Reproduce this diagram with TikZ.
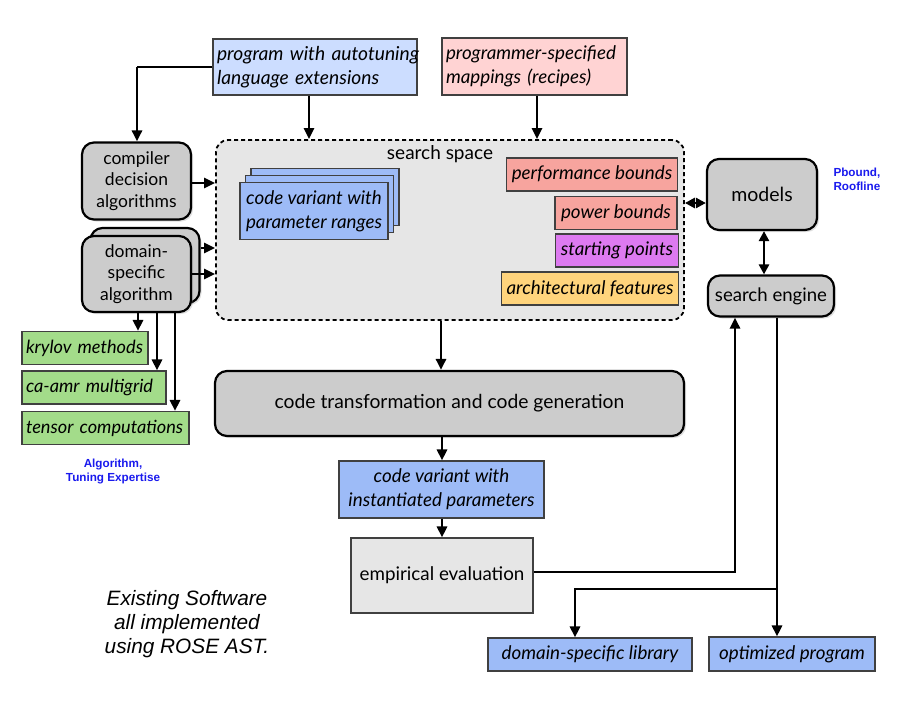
\documentclass[tikz,border=0pt]{standalone}
\usepackage{fontspec}
\setmainfont{Lato}
\newfontfamily\arialf{Liberation Sans}
\usetikzlibrary{arrows.meta,shadows}
\definecolor{lblue}{HTML}{CCDDFF}
\definecolor{lpink}{HTML}{FFD3D3}
\definecolor{mblue}{HTML}{9DBBF7}
\definecolor{salmon}{HTML}{F7A49E}
\definecolor{magen}{HTML}{DD7AF0}
\definecolor{orng}{HTML}{FFD47C}
\definecolor{lgreen}{HTML}{A3DC8A}
\definecolor{gboxc}{HTML}{CCCCCC}
\definecolor{sspace}{HTML}{E6E6E6}
\definecolor{bluetxt}{HTML}{1A1AEE}
\tikzset{
  rbox/.style={draw=black!75, line width=1.1pt, inner xsep=5pt, inner ysep=0pt,
     font=\itshape\fontsize{18.8}{23.5}\selectfont},
  gbox/.style={draw=black, line width=2.2pt, rounded corners=12pt, fill=gboxc,
     inner sep=0pt, align=center, font=\fontsize{18.6}{22}\selectfont,
     drop shadow={shadow xshift=2pt, shadow yshift=-2pt, opacity=0.25}},
  arr/.style={line width=2.8pt, -{Triangle[length=11pt,width=10pt]}},
  dbl/.style={line width=2.8pt, {Triangle[length=10pt,width=10pt]}-{Triangle[length=10pt,width=10pt]}},
  plain/.style={line width=2.8pt},
  bluelbl/.style={text=bluetxt, font=\arialf\bfseries\fontsize{11.7}{13.5}\selectfont, align=left},
}
\begin{document}
\begin{tikzpicture}[x=1pt,y=-1pt]
\useasboundingbox[fill=white] (0,0) rectangle (920,704);

% top inputs
\node[rbox, fill=lblue, minimum width=204pt, minimum height=56pt, text width=196pt, inner xsep=4pt, align=left, font=\itshape\fontsize{19.2}{24}\selectfont] (prog) at (315,67) {\mbox{program with autotuning}\\\mbox{language extensions}};
\node[rbox, fill=lpink, minimum width=185pt, minimum height=57pt, text width=177pt, inner xsep=4pt, align=left] (recp) at (534.5,66.5) {\mbox{programmer-specified}\\\mbox{mappings (recipes)}};

% search space
\node[draw, dashed, dash pattern=on 4pt off 3pt, rounded corners=12pt, fill=sspace, line width=1.8pt, minimum width=468pt, minimum height=180pt, inner sep=0pt] (ss) at (450,230) {};
\node[font=\fontsize{19}{22}\selectfont] (ssl) at (440,154) {search space};

% code variant stack
\node[rbox, fill=mblue, minimum width=148pt, minimum height=57pt] (cvb) at (325,197) {};
\node[rbox, fill=mblue, minimum width=148pt, minimum height=57pt] (cvm) at (319.5,204) {};
\node[rbox, fill=mblue, minimum width=148pt, minimum height=57pt, align=center, font=\itshape\fontsize{18.8}{24}\selectfont] (cv) at (314,211) {code variant with\\parameter ranges};

% bounds etc
\node[rbox, fill=salmon, minimum width=170pt, minimum height=33pt] (perf) at (592,174.5) {performance bounds};
\node[rbox, fill=salmon, minimum width=122pt, minimum height=33pt] (pow) at (616,213) {power bounds};
\node[rbox, fill=magen, minimum width=120pt, minimum height=33pt] (start) at (617,250.5) {starting points};
\node[rbox, fill=orng, minimum width=174pt, minimum height=33pt] (arch) at (590,288.5) {architectural features};

% left gray boxes
\node[gbox, minimum width=109pt, minimum height=77pt, font=\fontsize{17.5}{21.5}\selectfont] (comp) at (136.5,181) {compiler\\decision\\algorithms};
\node[gbox, minimum width=109pt, minimum height=75pt] (domb) at (145,265.5) {};
\node[gbox, minimum width=109pt, minimum height=76pt, font=\fontsize{17.5}{21.5}\selectfont] (dom) at (136.5,274) {domain-\\specific\\algorithm};

% green boxes
\node[rbox, fill=lgreen, minimum width=126pt, minimum height=33pt, text width=118pt, inner xsep=4pt, align=left, font=\itshape\fontsize{18.2}{22}\selectfont] (kry) at (85,348) {\mbox{krylov methods}};
\node[rbox, fill=lgreen, minimum width=144pt, minimum height=33pt, text width=136pt, inner xsep=4pt, align=left, font=\itshape\fontsize{18.2}{22}\selectfont] (amr) at (94,387.5) {\mbox{ca-amr multigrid}};
\node[rbox, fill=lgreen, minimum width=167pt, minimum height=33pt, text width=159pt, inner xsep=4pt, align=left, font=\itshape\fontsize{18.2}{22}\selectfont] (ten) at (105.5,428) {\mbox{tensor computations}};
\node[bluelbl, align=center] (algl) at (113,471.5) {Algorithm,\\Tuning Expertise};

% right side
\node[gbox, minimum width=110pt, minimum height=71pt, font=\fontsize{19.5}{22}\selectfont] (mod) at (762,194.5) {models};
\node[gbox, minimum width=126pt, minimum height=41pt] (se) at (771,296) {search engine};
\node[bluelbl, anchor=west] (pbl) at (830,179.5) {Pbound,\\Roofline};

% middle flow
\node[gbox, minimum width=469pt, minimum height=65pt, font=\fontsize{19.3}{22}\selectfont] (ctg) at (449.5,403.5) {code transformation and code generation};
\node[rbox, fill=mblue, minimum width=205pt, minimum height=57pt, align=center, font=\itshape\fontsize{18.8}{24}\selectfont] (inst) at (441.5,489.5) {code variant with\\instantiated parameters};
\node[draw=black!75, line width=1.1pt, fill=sspace, minimum width=182pt, minimum height=75pt, inner sep=0pt, font=\fontsize{18.8}{22}\selectfont] (emp) at (442,575.5) {empirical evaluation};

% outputs
\node[rbox, fill=mblue, minimum width=204pt, minimum height=33pt] (lib) at (590,654.5) {domain-specific library};
\node[rbox, fill=mblue, minimum width=166pt, minimum height=34pt] (opt) at (792,654) {optimized program};

\node[font=\arialf\itshape\fontsize{20.8}{24}\selectfont, align=center] (exist) at (187,624) {Existing Software\\all implemented\\using ROSE AST.};

% connectors
\coordinate (pturn) at (137,67);
\draw[plain] (prog.west) -- (pturn);
\draw[arr] (pturn) -- (comp.north -| pturn);
\draw[arr] (prog.south -| 309,0) -- (ss.north -| 309,0);
\draw[arr] (recp.south -| 537,0) -- (ss.north -| 537,0);
\draw[arr] (comp.east |- 0,183) -- (ss.west |- 0,183);
\draw[arr] (domb.east |- 0,248) -- (ss.west |- 0,248);
\draw[arr] (dom.east |- 0,274) -- (ss.west |- 0,274);
\draw[arr] (dom.south -| 138,0) -- (kry.north -| 138,0);
\draw[arr] (dom.south -| 157,0) -- (amr.north -| 157,0);
\draw[arr] (dom.south -| 175,0) -- (ten.north -| 175,0);
\draw[dbl] (ss.east |- 0,203) -- (mod.west |- 0,203);
\draw[dbl] (mod.south -| 764,0) -- (se.north -| 764,0);
\draw[arr] (ss.south -| 441,0) -- (ctg.north -| 441,0);
\draw[arr] (ctg.south -| 442,0) -- (inst.north -| 442,0);
\draw[arr] (inst.south -| 442,0) -- (emp.north -| 442,0);
\coordinate (eturn) at (735,572);
\draw[arr, line join=miter] (emp.east |- eturn) -- (eturn) -- (se.south -| eturn);
\coordinate (obr) at (777,589);
\coordinate (lturn) at (575,589);
\draw[arr] (se.south -| obr) -- (opt.north -| obr);
\draw[arr, line join=miter] (obr) -- (lturn) -- (lib.north -| lturn);
\end{tikzpicture}
\end{document}
